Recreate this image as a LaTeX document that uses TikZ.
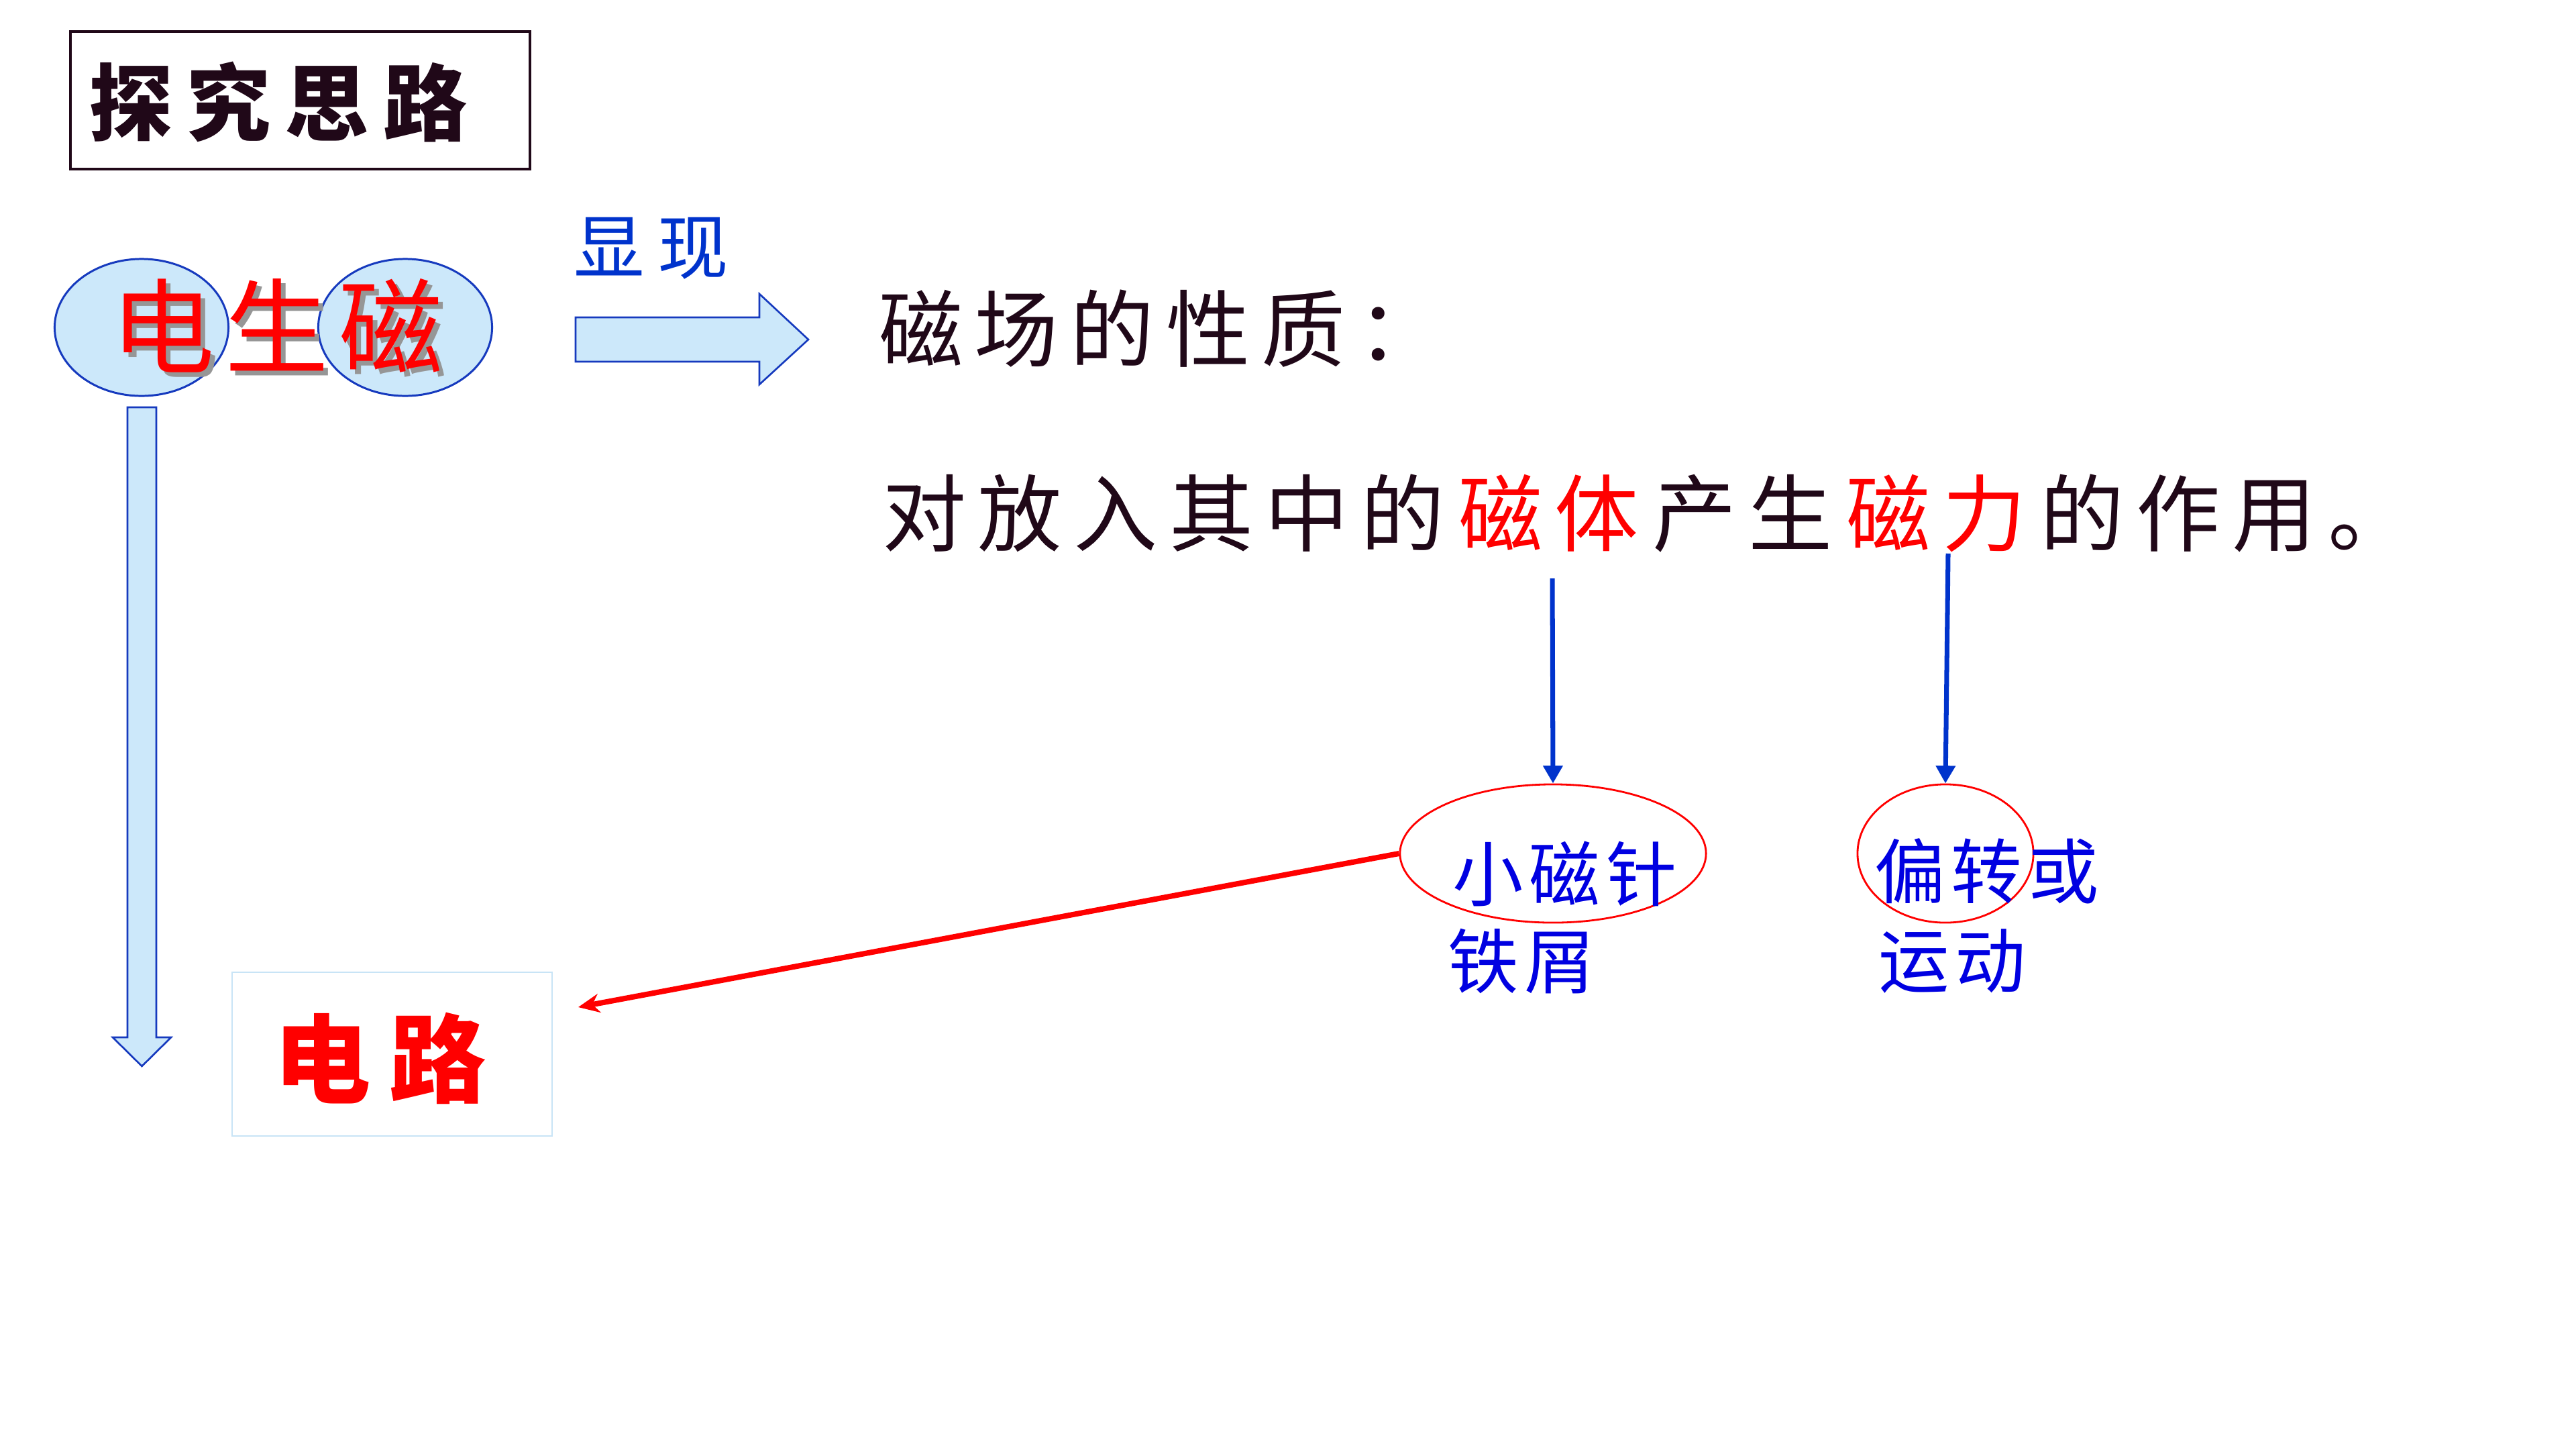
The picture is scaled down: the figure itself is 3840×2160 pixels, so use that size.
\documentclass[tikz,border=0pt]{standalone}
\usepackage{fontspec}
\usetikzlibrary{arrows.meta,shapes.geometric}
\newfontfamily\cjkTitle[LetterSpace=17]{Noto Sans CJK SC}
\newfontfamily\cjkBig[LetterSpace=10]{Noto Sans CJK SC}
\newfontfamily\cjkShow[LetterSpace=19]{Noto Sans CJK SC}
\newfontfamily\cjkBody[LetterSpace=14]{Noto Sans CJK SC}
\newfontfamily\cjkSmall[LetterSpace=9]{Noto Sans CJK SC}
\newfontfamily\cjkCirc[LetterSpace=20]{Noto Sans CJK SC}
\definecolor{paleblue}{RGB}{204,232,250}
\definecolor{lineblue}{RGB}{22,58,190}
\definecolor{arrowblue}{RGB}{0,51,204}
\definecolor{textblue}{RGB}{0,0,225}
\definecolor{darktext}{RGB}{32,8,24}
\definecolor{shadowgray}{RGB}{150,150,150}
\definecolor{circbox}{RGB}{200,228,246}
\newcommand{\gapk}{\kern6pt}
\tikzset{
  txt/.style={inner sep=0pt, outer sep=0pt, anchor=west},
  blueell/.style={ellipse, draw=lineblue, fill=paleblue, line width=0.85pt, inner sep=0pt},
  redell/.style={ellipse, draw=red, line width=0.8pt, inner sep=0pt},
  blockarrow/.style={draw=lineblue, fill=paleblue, line width=0.75pt, line join=miter},
  bluearrow/.style={draw=arrowblue, line width=2pt, -{Triangle[length=7.5pt,width=8pt]}},
  redarrow/.style={draw=red, line width=2.3pt, -{Stealth[length=9pt,width=8pt]}},
}
\begin{document}
\begin{tikzpicture}[x=0.01cm,y=-0.01cm]
\useasboundingbox (0,0) rectangle (3840,2160);
\fill[white] (0,0) rectangle (3840,2160);

% title
\node[draw=darktext, line width=1pt, minimum width=6.85cm, minimum height=2.05cm, inner sep=0pt] (titlebox) at (447.5,149.5) {};
\node[txt, text=darktext] (title) at (132,152) {\cjkTitle\bfseries\fontsize{35.6}{40}\selectfont 探究思路};

% ellipses behind 电生磁
\node[blueell, minimum width=2.59cm, minimum height=2.04cm] (eleft) at (211,488) {};
\node[blueell, minimum width=2.59cm, minimum height=2.04cm] (eright) at (604,488) {};
\node[txt, text=shadowgray] (dsmsh) at (172,492) {\cjkBig\fontsize{44}{48}\selectfont 电生磁};
\node[txt, text=red] (dsm) at (165,485) {\cjkBig\fontsize{44}{48}\selectfont 电生磁};

% right block arrow
\draw[blockarrow] (858,473) -- (1132,473) -- (1132,438) -- (1205,506) -- (1132,573) -- (1132,539) -- (858,539) -- cycle;
\node[txt, text=arrowblue] (show) at (855,370) {\cjkShow\fontsize{30}{34}\selectfont 显现};

% down block arrow
\draw[blockarrow] (190,607) -- (233,607) -- (233,1546) -- (255,1546) -- (211.5,1589) -- (168,1546) -- (190,1546) -- cycle;

% body text
\node[txt, text=darktext] (prop) at (1310,490) {\cjkBody\fontsize{35.6}{40}\selectfont 磁场的性质：};
\node[txt, text=darktext] (effect) at (1315,765) {\cjkBody\fontsize{35.6}{40}\selectfont 对放入其中的\gapk\textcolor{red}{磁体}\gapk 产生\gapk\textcolor{red}{磁力}\gapk 的作用。};
\coordinate (magbody) at (2314,862);
\coordinate (magforce) at (2904,825);

% result ellipses
\node[redell, minimum width=4.56cm, minimum height=2.06cm] (needle) at (2315,1272) {};
\node[redell, minimum width=2.62cm, minimum height=2.06cm] (deflect) at (2900,1272) {};
\node[txt, text=textblue] (needletxt) at (2165,1302) {\cjkSmall\fontsize{30}{34}\selectfont 小磁针};
\node[txt, text=textblue] (filings) at (2158,1432) {\cjkSmall\fontsize{30}{34}\selectfont 铁屑};
\node[txt, text=textblue] (deflecttxt) at (2794,1298) {\cjkSmall\fontsize{30}{34}\selectfont 偏转或};
\node[txt, text=textblue] (motion) at (2800,1432) {\cjkSmall\fontsize{30}{34}\selectfont 运动};

\draw[bluearrow] (magbody) -- (needle.north);
\draw[bluearrow] (magforce) -- (deflect.north);

% circuit box
\node[draw=circbox, line width=0.6pt, minimum width=4.77cm, minimum height=2.44cm, inner sep=0pt] (circuitbox) at (584.5,1571) {};
\node[txt, text=red] (circuit) at (408,1577) {\cjkCirc\bfseries\fontsize{41}{46}\selectfont 电路};
\coordinate (circtip) at (862,1501);
\draw[redarrow] (needle.west) -- (circtip);
\end{tikzpicture}
\end{document}
